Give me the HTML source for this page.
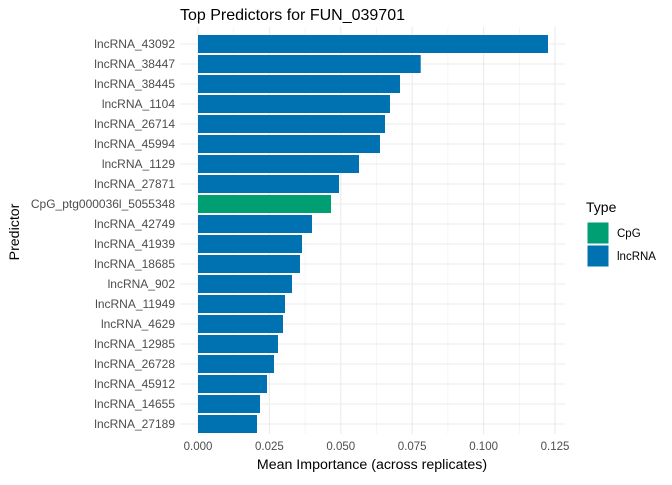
<!DOCTYPE html><html><head><style>body{margin:0;background:#fff}svg{font-family:"Liberation Sans",sans-serif}</style></head><body>
<svg width="672" height="480" viewBox="0 0 672 480" xmlns="http://www.w3.org/2000/svg">
<rect width="672" height="480" fill="#fff"/>
<g stroke="#f0f0f0" stroke-width="0.6">
<line x1="233.7" y1="27" x2="233.7" y2="434"/><line x1="305.1" y1="27" x2="305.1" y2="434"/><line x1="376.5" y1="27" x2="376.5" y2="434"/><line x1="447.9" y1="27" x2="447.9" y2="434"/><line x1="519.3" y1="27" x2="519.3" y2="434"/>
</g>
<g stroke="#ebebeb" stroke-width="1.1" id="g"></g>
<g id="b"></g>
<g font-size="11.5" fill="#4d4d4d" text-anchor="middle">
<text x="198" y="450">0.000</text><text x="269.4" y="450">0.025</text><text x="340.8" y="450">0.050</text><text x="412.2" y="450">0.075</text><text x="483.6" y="450">0.100</text><text x="555" y="450">0.125</text>
</g>
<g font-size="12" fill="#4d4d4d" text-anchor="end" id="l"></g>
<text x="372" y="469" font-size="14.2" text-anchor="middle" fill="#000">Mean Importance (across replicates)</text>
<text x="19" y="232" font-size="14.2" text-anchor="middle" fill="#000" transform="rotate(-90 19 232)">Predictor</text>
<text x="180" y="20" font-size="16" fill="#000">Top Predictors for FUN_039701</text>
<text x="586" y="212" font-size="14" fill="#000">Type</text>
<rect x="587" y="222" width="22" height="22" fill="#009E73" stroke="#fff"/>
<rect x="587" y="245" width="22" height="22" fill="#0072B2" stroke="#fff"/>
<text x="617" y="237" font-size="11.5" fill="#000">CpG</text>
<text x="617" y="260" font-size="11.5" fill="#000">lncRNA</text>
<script>
var n=["lncRNA_43092","lncRNA_38447","lncRNA_38445","lncRNA_1104","lncRNA_26714","lncRNA_45994","lncRNA_1129","lncRNA_27871","CpG_ptg000036l_5055348","lncRNA_42749","lncRNA_41939","lncRNA_18685","lncRNA_902","lncRNA_11949","lncRNA_4629","lncRNA_12985","lncRNA_26728","lncRNA_45912","lncRNA_14655","lncRNA_27189"];
var e=[548,420.7,400,390,385,380,359,339,331,312,302,300,292,285,283,278,274,267,260,257];
var g=document.getElementById("g"),b=document.getElementById("b"),l=document.getElementById("l"),s="http://www.w3.org/2000/svg";
var gx=[198,269.4,340.8,412.2,483.6,555];
gx.forEach(function(x){var q=document.createElementNS(s,"line");q.setAttribute("x1",x);q.setAttribute("x2",x);q.setAttribute("y1",27);q.setAttribute("y2",434);g.appendChild(q);});
n.forEach(function(t,i){var c=44+20*i;
var q=document.createElementNS(s,"line");q.setAttribute("x1",180);q.setAttribute("x2",565);q.setAttribute("y1",c);q.setAttribute("y2",c);g.appendChild(q);
var r=document.createElementNS(s,"rect");r.setAttribute("x",198);r.setAttribute("y",c-9);r.setAttribute("width",e[i]-198);r.setAttribute("height",18);r.setAttribute("fill",i==8?"#009E73":"#0072B2");b.appendChild(r);
var x=document.createElementNS(s,"text");x.setAttribute("x",175);x.setAttribute("y",c+4);x.textContent=t;l.appendChild(x);});
</script>
</svg></body></html>
